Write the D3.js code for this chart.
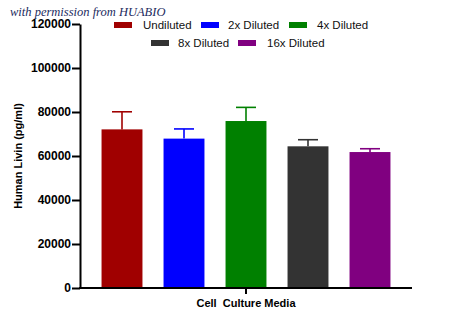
<!DOCTYPE html>
<html>
<head>
<meta charset="utf-8">
<script src="https://cdn.jsdelivr.net/npm/d3@7"></script>
<style>
html,body{margin:0;padding:0;background:#fff;}
svg{display:block;}
</style>
</head>
<body>
<svg id="chart" width="450" height="327"></svg>
<script>
const categories = ["Undiluted", "2x Diluted", "4x Diluted", "8x Diluted", "16x Diluted"];
const means = [72100, 67900, 75900, 64400, 61800];
const errorTops = [80100, 72300, 82100, 67400, 63300];
const colors = ["#a00000", "#0000ff", "#008000", "#333333", "#800080"];
const yTicks = [0, 20000, 40000, 60000, 80000, 100000, 120000];
const groupLabel = "Cell  Culture Media";
const yLabel = "Human Livin (pg/ml)";
const watermark = "with permission from HUABIO";

(function () {
const svg = d3.select("#chart");
const mLeft = 80, mRight = 412, mTop = 24, mBottom = 288;

const y = d3.scaleLinear().domain([0, 120000]).range([mBottom, mTop]);
const x = d3.scaleBand().domain(categories).range([91, 401]).paddingInner(0.34).paddingOuter(0.17);

// bars
svg.append("g").selectAll("rect").data(categories).join("rect")
  .attr("x", d => x(d))
  .attr("width", x.bandwidth())
  .attr("y", (d, i) => y(means[i]))
  .attr("height", (d, i) => y(0) - y(means[i]))
  .attr("fill", (d, i) => colors[i]);

// error bars (upper only)
const eg = svg.append("g");
categories.forEach((c, i) => {
  const cx = x(c) + x.bandwidth() / 2;
  eg.append("line").attr("x1", cx).attr("x2", cx)
    .attr("y1", y(means[i])).attr("y2", y(errorTops[i]))
    .attr("stroke", colors[i]).attr("stroke-width", 1.6);
  eg.append("line").attr("x1", cx - 10).attr("x2", cx + 10)
    .attr("y1", y(errorTops[i])).attr("y2", y(errorTops[i]))
    .attr("stroke", colors[i]).attr("stroke-width", 1.6);
});

// y axis
const yAxis = svg.append("g").attr("transform", `translate(${mLeft},0)`)
  .call(d3.axisLeft(y).tickValues(yTicks).tickFormat(d3.format("d")).tickSize(8).tickSizeOuter(0));
yAxis.select(".domain").attr("stroke", "#000").attr("stroke-width", 2);
yAxis.selectAll(".tick line").attr("stroke", "#000").attr("stroke-width", 2);
yAxis.selectAll(".tick text")
  .attr("x", -9)
  .style("font-family", "'Liberation Sans', Arial, sans-serif")
  .style("font-size", "12px").style("font-weight", "bold").attr("fill", "#000");

// x axis
const xg = svg.append("g");
xg.append("line").attr("x1", mLeft - 1).attr("x2", mRight).attr("y1", mBottom).attr("y2", mBottom)
  .attr("stroke", "#000").attr("stroke-width", 2);
xg.append("line").attr("x1", (mLeft + mRight) / 2).attr("x2", (mLeft + mRight) / 2)
  .attr("y1", mBottom).attr("y2", mBottom + 6).attr("stroke", "#000").attr("stroke-width", 2);
xg.append("text").attr("x", (mLeft + mRight) / 2).attr("y", 307)
  .attr("text-anchor", "middle")
  .style("font-family", "'Liberation Sans', Arial, sans-serif")
  .style("font-size", "11px").style("font-weight", "bold")
  .style("white-space", "pre")
  .text(groupLabel);

// y label
svg.append("text")
  .attr("transform", "translate(22,156) rotate(-90)")
  .attr("text-anchor", "middle")
  .style("font-family", "'Liberation Sans', Arial, sans-serif")
  .style("font-size", "11px").style("font-weight", "bold")
  .text(yLabel);

// legend
const legendPos = [
  {sx: 114, tx: 143, y: 25},
  {sx: 201, tx: 228, y: 25},
  {sx: 289, tx: 317, y: 25},
  {sx: 151, tx: 178, y: 43},
  {sx: 238, tx: 267, y: 43}
];
const lg = svg.append("g");
categories.forEach((c, i) => {
  const p = legendPos[i];
  lg.append("rect").attr("x", p.sx).attr("y", p.y - 3).attr("width", 18).attr("height", 6).attr("fill", colors[i]);
  lg.append("text").attr("x", p.tx).attr("y", p.y + 4)
    .style("font-family", "'Liberation Sans', Arial, sans-serif")
    .style("font-size", "11.5px").attr("fill", "#111")
    .text(c);
});

// watermark
svg.append("text").attr("x", 10).attr("y", 16)
  .style("font-family", "'Liberation Serif', 'DejaVu Serif', serif")
  .style("font-style", "italic").style("font-size", "12.5px")
  .attr("fill", "#1c2b5e")
  .text(watermark);
})();
</script>
</body>
</html>
